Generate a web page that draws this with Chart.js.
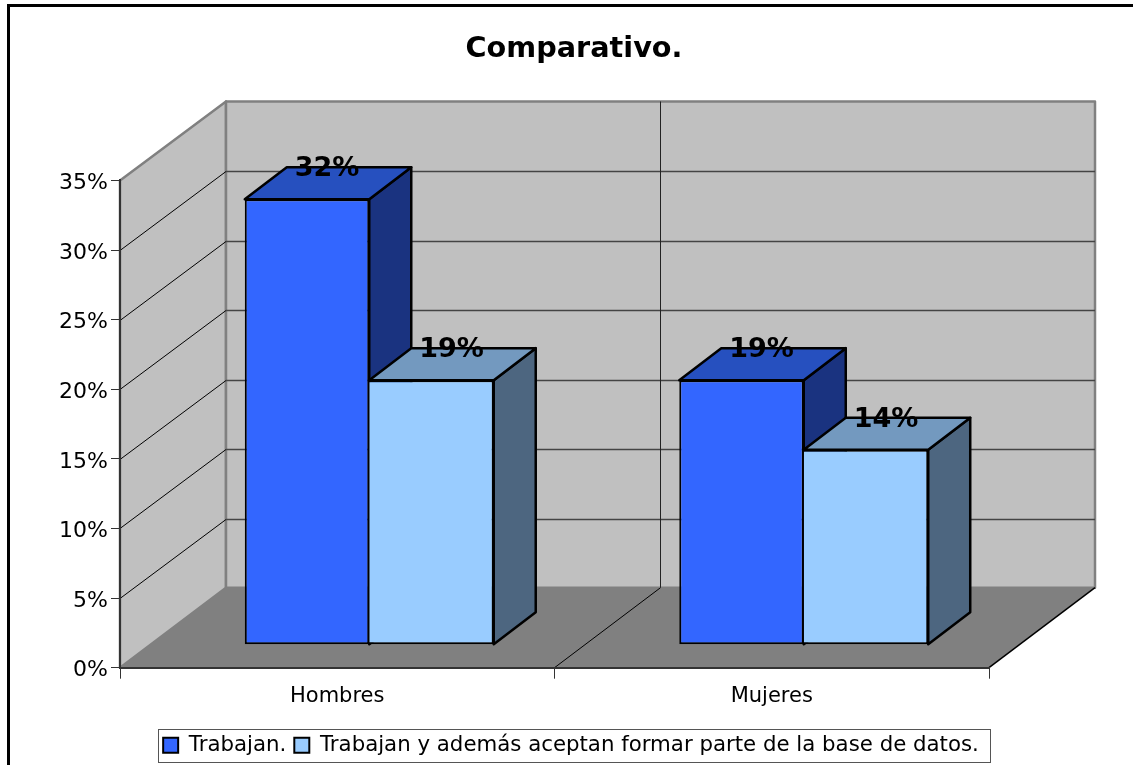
<!DOCTYPE html>
<html>
<head>
<meta charset="utf-8">
<title>Comparativo.</title>
<style>
  html, body { margin: 0; padding: 0; background: #fff; overflow: hidden; }
  canvas { display: block; }
</style>
<script src="https://cdn.jsdelivr.net/npm/chart.js@4"></script>
</head>
<body>
<canvas id="chart" width="1133" height="765"></canvas>
<script>
const categories = ['Hombres', 'Mujeres']
const seriesNames = ['Trabajan.', 'Trabajan y además aceptan formar parte de la base de datos.']
const trabajan = [32, 19]
const trabajanBase = [19, 14]
const seriesColors = ['#3366ff', '#99ccff']
const topColors = ['#2650bf', '#7399bf']
const sideColors = ['#1a3380', '#4d6680']

// depth of the room, of the bars, and where the bars stand on the floor
const wallDx = 106, wallDy = -80
const barDx = 42, barDy = -32
const standDx = 32, standDy = -23

const fontName = '"DejaVu Sans", Verdana, sans-serif'

function poly(ctx, pts, fill, stroke, width) {
    ctx.beginPath()
    pts.forEach((p, i) => i ? ctx.lineTo(p[0], p[1]) : ctx.moveTo(p[0], p[1]))
    ctx.closePath()
    if (fill) { ctx.fillStyle = fill; ctx.fill() }
    if (stroke) { ctx.lineJoin = 'round'; ctx.strokeStyle = stroke; ctx.lineWidth = width; ctx.stroke() }
}

function line(ctx, x1, y1, x2, y2, color, width) {
    ctx.beginPath()
    ctx.moveTo(x1, y1)
    ctx.lineTo(x2, y2)
    ctx.strokeStyle = color
    ctx.lineWidth = width
    ctx.stroke()
}

const room = {
    id: 'room',
    afterUpdate(chart) {
        // y tick labels sit a little under their tick marks
        chart.scales.y.getLabelItems().forEach(item => { item.options.translation[1] += 3 })
        // legend row nudged to sit inside its box
        const lg = chart.legend
        lg.left -= 3
        lg.right -= 3
        lg.top += 1
        lg.bottom += 1
    },
    beforeDraw(chart) {
        const ctx = chart.ctx, a = chart.chartArea, y = chart.scales.y, x = chart.scales.x
        const backTop = a.top + wallDy + 1
        ctx.save()
        ctx.fillStyle = '#fff'
        ctx.fillRect(0, 0, chart.width, chart.height)

        // outer frame runs off the right and bottom edges
        ctx.strokeStyle = '#000'
        ctx.lineWidth = 3
        ctx.beginPath()
        ctx.moveTo(8.5, chart.height + 5)
        ctx.lineTo(8.5, 5.5)
        ctx.lineTo(chart.width + 5, 5.5)
        ctx.stroke()

        // side wall, back wall, floor
        poly(ctx, [[a.left, a.top], [a.left + wallDx, backTop], [a.left + wallDx, a.bottom + wallDy], [a.left, a.bottom]], '#c0c0c0', '#808080', 2.5)
        poly(ctx, [[a.left + wallDx, backTop], [a.right + wallDx, backTop], [a.right + wallDx, a.bottom + wallDy], [a.left + wallDx, a.bottom + wallDy]], '#c0c0c0', '#808080', 2.5)
        poly(ctx, [[a.left, a.bottom], [a.left + wallDx, a.bottom + wallDy], [a.right + wallDx, a.bottom + wallDy], [a.right, a.bottom]], '#808080')

        y.ticks.forEach(t => {
            if (t.value === 0 || t.value === y.max) return
            const py = Math.round(y.getPixelForValue(t.value)) + 0.5
            line(ctx, a.left, py, a.left + wallDx, py + wallDy + 1, '#000', 1)
            line(ctx, a.left + wallDx, py + wallDy + 1, a.right + wallDx, py + wallDy + 1, '#444', 1.5)
        })

        // divider between the two categories, and the floor's right edge
        const mid = (x.getPixelForValue(0) + x.getPixelForValue(1)) / 2
        line(ctx, mid, a.bottom, mid + wallDx, a.bottom + wallDy, '#000', 1)
        line(ctx, mid + wallDx, a.bottom + wallDy, mid + wallDx, backTop, '#222', 1)
        line(ctx, a.right, a.bottom, a.right + wallDx, a.bottom + wallDy, '#000', 1.5)
        ctx.restore()
    },
    beforeDatasetsDraw(chart) {
        const ctx = chart.ctx
        ctx.save()
        ctx.translate(standDx, standDy)
        chart.data.datasets.forEach((ds, i) => {
            chart.getDatasetMeta(i).data.forEach(bar => {
                const l = bar.x - bar.width / 2, r = bar.x + bar.width / 2
                poly(ctx, [[r, bar.y], [r + barDx, bar.y + barDy], [r + barDx, bar.base + barDy], [r, bar.base]], sideColors[i], '#000', 2.5)
                poly(ctx, [[l, bar.y], [l + barDx, bar.y + barDy], [r + barDx, bar.y + barDy], [r, bar.y]], topColors[i], '#000', 2.5)
            })
        })
    },
    afterDatasetsDraw(chart) {
        const ctx = chart.ctx
        // still inside the translate opened in beforeDatasetsDraw
        ctx.font = 'bold 27px ' + fontName
        ctx.fillStyle = '#000'
        ctx.textAlign = 'center'
        ctx.textBaseline = 'middle'
        chart.data.datasets.forEach((ds, i) => {
            chart.getDatasetMeta(i).data.forEach((bar, j) => {
                ctx.fillText(ds.data[j] + '%', bar.x + 20, bar.y - 30)
            })
        })
        ctx.restore()

        ctx.save()
        ctx.strokeStyle = '#555'
        ctx.lineWidth = 1
        ctx.strokeRect(158.5, 729.5, 832, 33)
        ctx.restore()
    }
}

new Chart('chart', {
    type: 'bar',
    plugins: [room],
    data: {
        labels: categories,
        datasets: [
            { label: seriesNames[0], data: trabajan, backgroundColor: seriesColors[0], borderColor: '#000', borderWidth: 2, borderSkipped: false },
            { label: seriesNames[1], data: trabajanBase, backgroundColor: seriesColors[1], borderColor: '#000', borderWidth: 2, borderSkipped: 'left' }
        ]
    },
    options: {
        responsive: false,
        animation: false,
        layout: { padding: { left: 15, right: 0, top: 0, bottom: 0 } },
        datasets: { bar: { categoryPercentage: 0.573, barPercentage: 1 } },
        scales: {
            x: {
                grid: { drawOnChartArea: false, tickLength: 11, tickColor: '#333', lineWidth: 1 },
                border: { color: '#333', width: 2 },
                ticks: { color: '#000', font: { family: fontName, size: 21 }, padding: 5 },
                afterFit: s => { s.height = 58 }
            },
            y: {
                min: 0, max: 35,
                grid: { drawOnChartArea: false, tickLength: 9, tickColor: '#333', lineWidth: 1 },
                border: { color: '#333', width: 2 },
                ticks: { stepSize: 5, color: '#000', padding: 3, font: { family: fontName, size: 22 }, callback: v => v + '%' },
                afterFit: s => { s.width = 105 }
            },
            pad: {
                position: 'right',
                min: 0, max: 1,
                grid: { display: false },
                border: { display: false },
                ticks: { display: false },
                afterFit: s => { s.width = 144 }
            }
        },
        plugins: {
            title: {
                display: true,
                text: 'Comparativo.',
                color: '#000',
                font: { family: fontName, size: 28.7, weight: 'bold' },
                padding: { top: 32, bottom: 114 }
            },
            legend: {
                position: 'bottom',
                labels: {
                    color: '#000',
                    font: { family: fontName, size: 21.3 },
                    boxWidth: 15, boxHeight: 15, padding: 8
                }
            },
            tooltip: { enabled: false }
        }
    }
})
</script>
</body>
</html>
